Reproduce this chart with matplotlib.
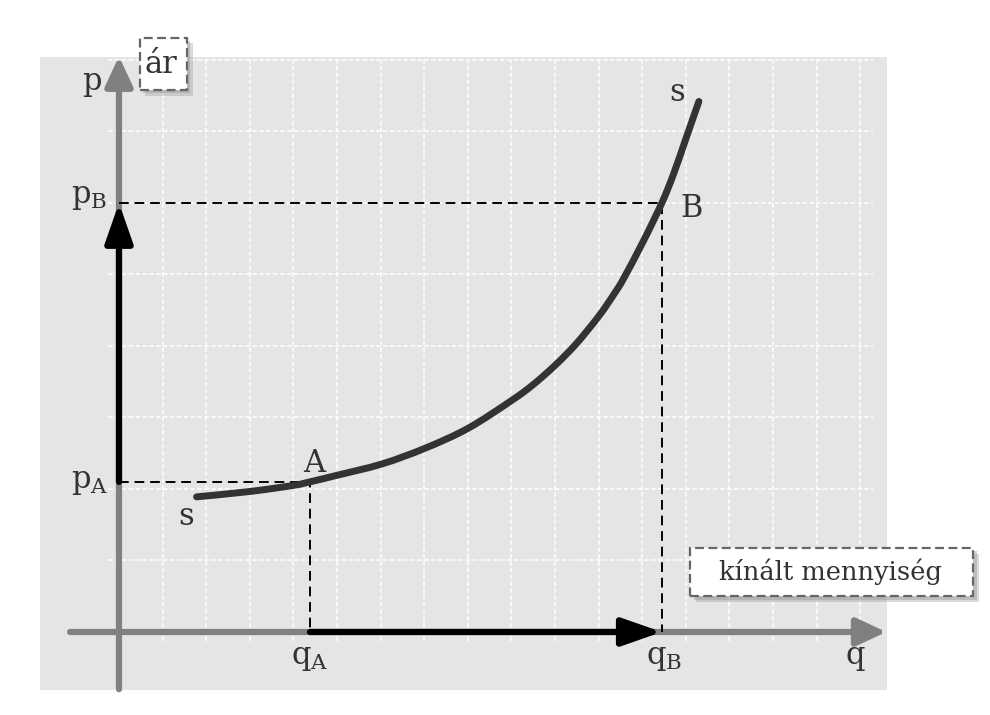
import matplotlib
matplotlib.use("Agg")
import matplotlib.pyplot as plt
import matplotlib.patheffects as pe
from matplotlib.path import Path
from matplotlib.patches import PathPatch

# supply curve (grid units: 1 = one grid cell)
curve_q = [1.78, 3.00, 4.00, 4.38, 4.99, 6.03, 7.02, 8.01, 9.01, 9.50, 10.02,
           10.50, 11.02, 11.38, 11.58, 12.03, 12.45, 12.71, 12.98, 13.14, 13.30]
curve_p = [1.89, 1.965, 2.05, 2.10, 2.19, 2.35, 2.57, 2.85, 3.24, 3.46, 3.74,
           4.04, 4.43, 4.75, 4.95, 5.47, 6.00, 6.39, 6.86, 7.14, 7.42]

# points A and B
q_A, p_A = 4.38, 2.10
q_B, p_B = 12.45, 6.0

grid_x = list(range(1, 18))
grid_y = list(range(1, 9))

plt.rcParams['font.family'] = ['DejaVu Serif']
plt.rcParams['mathtext.fontset'] = 'dejavuserif'

fig = plt.figure(figsize=(9.9, 7.15), dpi=100)
ax = fig.add_axes([0, 0, 1, 1])
ax.set_xlim(-2.729, 19.977)
ax.set_ylim(-1.161, 8.839)
ax.axis("off")

txt = "#333333"
fs = 22

# gray panel
ax.add_patch(plt.Rectangle((-1.81, -0.81), 19.42, 8.85, color="#e5e5e5", zorder=0, lw=0))

# white dashed grid
for gx in grid_x:
    ax.plot([gx, gx], [-0.12, 8.0], color="white", lw=1.1, ls=(0, (3, 1.5)), zorder=1)
for gy in grid_y:
    ax.plot([-0.25, 17.3], [gy, gy], color="white", lw=1.1, ls=(0, (3, 1.5)), zorder=1)

# dashed guides
dash = dict(color="black", lw=1.4, ls=(0, (5, 3)), zorder=3)
ax.plot([0, q_A, q_A], [p_A, p_A, 0], **dash)
ax.plot([0, q_B, q_B], [p_B, p_B, 0], **dash)

# gray axes
gray = "#808080"
axis_arrow = dict(arrowstyle="-|>,head_length=0.9,head_width=0.42", lw=4.5, color=gray,
                  shrinkA=0, shrinkB=0, mutation_scale=20)
ax.annotate("", xy=(0, 8.05), xytext=(0, -0.8), arrowprops=axis_arrow, zorder=2)
ax.annotate("", xy=(17.6, 0), xytext=(-1.12, 0), arrowprops=axis_arrow, zorder=2)

# black change arrows
move_arrow = dict(arrowstyle="-|>,head_length=1.2,head_width=0.42", lw=4.5, color="black",
                  shrinkA=0, shrinkB=0, mutation_scale=20)
ax.annotate("", xy=(0, p_B), xytext=(0, p_A), arrowprops=move_arrow, zorder=4)
ax.annotate("", xy=(q_B, 0), xytext=(q_A, 0), arrowprops=move_arrow, zorder=4)

# supply curve, drawn as a smooth bezier through the read points
pts = list(zip(curve_q, curve_p))
verts = [pts[0]]
codes = [Path.MOVETO]
for i in range(len(pts) - 1):
    p0 = pts[i - 1] if i > 0 else pts[i]
    p1, p2 = pts[i], pts[i + 1]
    p3 = pts[i + 2] if i + 2 < len(pts) else pts[i + 1]
    c1 = (p1[0] + (p2[0] - p0[0]) / 6, p1[1] + (p2[1] - p0[1]) / 6)
    c2 = (p2[0] - (p3[0] - p1[0]) / 6, p2[1] - (p3[1] - p1[1]) / 6)
    verts += [c1, c2, p2]
    codes += [Path.CURVE4] * 3
ax.add_patch(PathPatch(Path(verts, codes), fc="none", ec="#333333", lw=5,
                       capstyle="round", joinstyle="round", zorder=5))

# labels
lab = dict(fontsize=fs, color=txt, ha="center", va="baseline")
ax.text(-0.62, 7.58, "p", **lab)
ax.text(-0.69, p_B, r"p$_\mathrm{B}$", **lab)
ax.text(-0.67, p_A - 0.08, r"p$_\mathrm{A}$", **lab)
ax.text(q_A, -0.45, r"q$_\mathrm{A}$", **lab)
ax.text(q_B + 0.05, -0.45, r"q$_\mathrm{B}$", **lab)
ax.text(16.88, -0.45, "q", **lab)
ax.text(q_A + 0.09, p_A + 0.14, "A", **lab)
ax.text(q_B + 0.67, p_B - 0.19, "B", **lab)
ax.text(curve_q[0] - 0.24, curve_p[0] - 0.39, "s", **lab)
ax.text(curve_q[-1] - 0.5, curve_p[-1], "s", **lab)

# label boxes with drop shadow
shadow = [pe.SimplePatchShadow(offset=(4, -4), shadow_rgbFace="#999999", alpha=0.35),
          pe.SimplePatchShadow(offset=(2.5, -2.5), shadow_rgbFace="#999999", alpha=0.45),
          pe.Normal()]
box_style = dict(fc="white", ec="#666666", ls=(0, (4, 2)), lw=1.6, zorder=6)

b1 = plt.Rectangle((0.48, 7.58), 1.08, 0.73, **box_style)
b1.set_path_effects(shadow)
ax.add_patch(b1)
ax.text(0.96, 7.94, "ár", fontsize=fs, color=txt, ha="center", va="center", zorder=7)

b2 = plt.Rectangle((13.10, 0.50), 6.49, 0.675, **box_style)
b2.set_path_effects(shadow)
ax.add_patch(b2)
ax.text(16.33, 0.84, "kínált mennyiség", fontsize=18.5, color=txt, ha="center", va="center", zorder=7)

fig.savefig("out.png", dpi=100, facecolor="white")
